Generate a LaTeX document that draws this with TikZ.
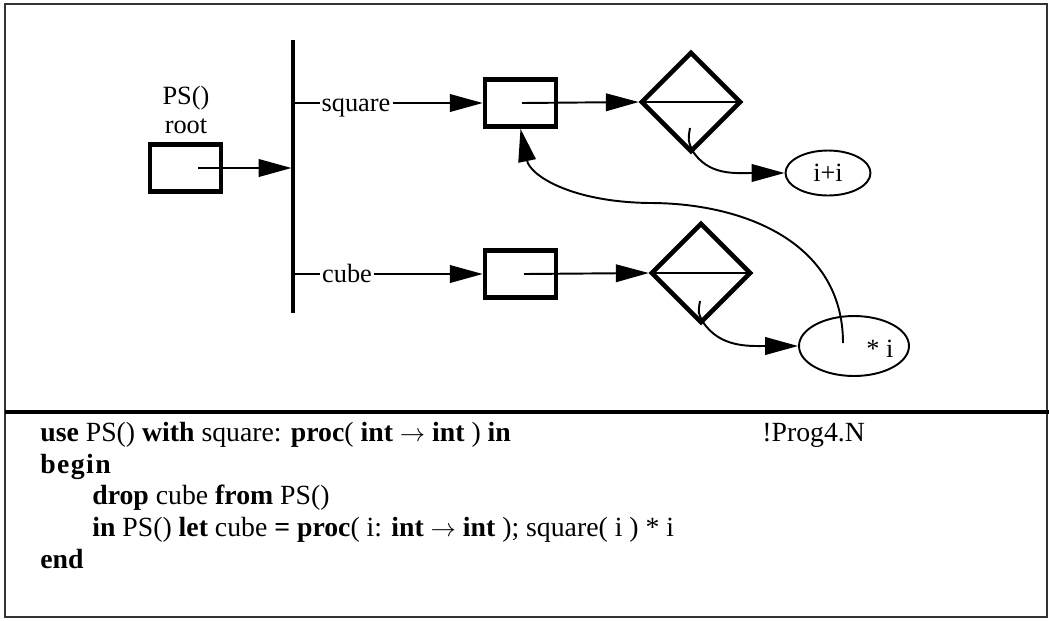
\documentclass[tikz,border=0pt]{standalone}
\usepackage{fontspec}
\setmainfont{Liberation Serif}
\usetikzlibrary{arrows.meta,shapes.geometric}
\newcommand{\kw}[1]{\textbf{#1}}
\newcommand{\arrowsym}{$\rightarrow$}

\begin{document}
\begin{tikzpicture}[x=0.02cm, y=-0.02cm,
    thinline/.style={line width=1.1pt},
    arr/.style={thinline, -{Triangle[length=18.7pt, width=10pt]}},
    cell/.style={draw, line width=2.6pt, minimum width=1.42cm, minimum height=0.94cm, inner sep=0pt},
    test/.style={draw, line width=2.6pt, diamond, aspect=1, minimum size=2cm, inner sep=0pt},
    leaf/.style={draw, thinline, ellipse, inner sep=0pt},
    txt/.style={font=\fontsize{15}{16}\selectfont, inner sep=1pt},
    codetxt/.style={font=\fontsize{15.8}{17}\selectfont, inner sep=0pt, anchor=base west}]
  \useasboundingbox (0,0) rectangle (1049,620);
  \draw[line width=1.1pt, black!80] (5,4) rectangle (1047,617);
  \draw[line width=2.8pt] (5,412) -- (1049,412);

  % root and bar
  \node[cell] (root) at (185.5,168) {};
  \node[txt, align=center, font=\fontsize{15}{16}\selectfont] (rootLbl) at (186,110) {PS()\\root};
  \coordinate (barTop) at (293,40);
  \coordinate (barBot) at (293,313);
  \draw[line width=2.8pt] (barTop) -- (barBot);
  \coordinate (rootIn) at (198,168);
  \draw[arr] (rootIn) -- (291.5,168);

  % square
  \coordinate (sqRow) at (293,103);
  \node[txt, anchor=base] (sqLbl) at (356,111) {square};
  \node[cell] (sqBox) at (520.5,103) {};
  \node[test] (sqTest) at (691,102) {};
  \node[leaf, minimum width=1.7cm, minimum height=0.9cm, txt] (sqRes) at (828,173) {i+i};
  \draw[thinline] (sqRow) -- (sqRow -| sqLbl.west);
  \draw[arr] (sqRow -| sqLbl.east) -- (sqBox.west);
  \coordinate (sqIn) at (522,103);
  \draw[arr] (sqIn) -- (sqTest.west);
  \draw[thinline] (sqTest.west) -- (sqTest.east);
  \coordinate (sqHook) at (690,128);
  \draw[arr] (sqHook) .. controls (688,140) .. (692,150) .. controls (708,176) and (735,173) .. (sqRes.west);

  % cube
  \coordinate (cuRow) at (293,274);
  \node[txt, anchor=base] (cuLbl) at (347,282) {cube};
  \node[cell] (cuBox) at (520.5,274) {};
  \node[test] (cuTest) at (701,273) {};
  \node[leaf, minimum width=2.2cm, minimum height=1.2cm] (cuRes) at (854,346) {};
  \node[txt] (cuResLbl) at (880,349) {* i};
  \draw[thinline] (cuRow) -- (cuRow -| cuLbl.west);
  \draw[arr] (cuRow -| cuLbl.east) -- (cuBox.west);
  \coordinate (cuIn) at (524,274);
  \draw[arr] (cuIn) -- (cuTest.west);
  \draw[thinline] (cuTest.west) -- (cuTest.east);
  \coordinate (cuHook) at (700,301);
  \draw[arr] (cuHook) .. controls (698,313) .. (703,322) .. controls (720,348) and (750,346) .. (cuRes.west);

  % call of square from cube
  \coordinate (cuCall) at (843,343);
  \draw[arr] (cuCall) .. controls (843,240) and (740,203) .. (650,203)
    .. controls (570,202) and (530,175) .. (sqBox.south);

  % program text
  \begin{scope}[every node/.style={codetxt}]
    \node (code1) at (40,441) {\kw{use} PS() \kw{with} square: \kw{proc}( \kw{int} \arrowsym{} \kw{int} ) \kw{in}};
    \node (code1r) at (762,441) {!Prog4.N};
    \node (code2) at (40,473) {\kw{\addfontfeatures{LetterSpace=5}begin}};
    \node (code3) at (92,504) {\kw{drop} cube \kw{from} PS()};
    \node (code4) at (92,536) {\kw{in} PS() \kw{let} cube \kw{=} \kw{proc}( i: \kw{int} \arrowsym{} \kw{int} ); square( i ) * i};
    \node (code5) at (40,568) {\kw{end}};
  \end{scope}
\end{tikzpicture}
\end{document}
